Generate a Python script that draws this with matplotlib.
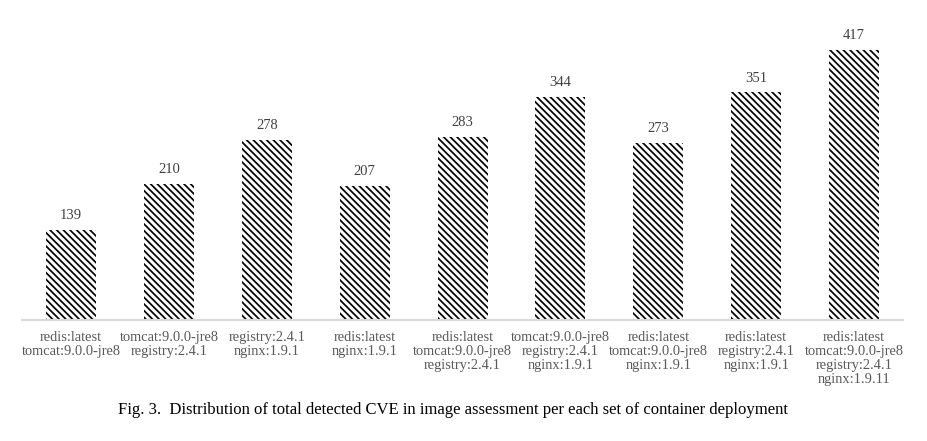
import matplotlib.pyplot as plt
import numpy as np

# ── Data ─────────────────────────────────────────────
deployments = [
    "redis:latest\ntomcat:9.0.0-jre8",
    "tomcat:9.0.0-jre8\nregistry:2.4.1",
    "registry:2.4.1\nnginx:1.9.1",
    "redis:latest\nnginx:1.9.1",
    "redis:latest\ntomcat:9.0.0-jre8\nregistry:2.4.1",
    "tomcat:9.0.0-jre8\nregistry:2.4.1\nnginx:1.9.1",
    "redis:latest\ntomcat:9.0.0-jre8\nnginx:1.9.1",
    "redis:latest\nregistry:2.4.1\nnginx:1.9.1",
    "redis:latest\ntomcat:9.0.0-jre8\nregistry:2.4.1\nnginx:1.9.11",
]
cve_totals = [139, 210, 278, 207, 283, 344, 273, 351, 417]

CAPTION = ("Fig. 3.  Distribution of total detected CVE in image assessment "
           "per each set of container deployment")

plt.rcParams["font.family"] = ["Liberation Serif", "DejaVu Serif"]
plt.rcParams["hatch.linewidth"] = 1.25
plt.rcParams["hatch.color"] = "black"

fig = plt.figure(figsize=(9.27, 4.41), dpi=100)
fig.patch.set_facecolor("white")
ax = fig.add_axes([0.024, 0.274, 0.950, 0.662])

x = np.arange(len(cve_totals))
ax.bar(x, cve_totals, width=0.51, color="white", edgecolor="black",
       linewidth=0, hatch="\\" * 5, zorder=2)

for xi, v in zip(x, cve_totals):
    ax.text(xi, v + 12, str(v), ha="center", va="bottom",
            fontsize=10.5, color="#404040")

ax.set_xlim(-0.5, len(cve_totals) - 0.5)
ax.set_ylim(0, 450)
ax.set_xticks(x)
ax.set_xticklabels(deployments, fontsize=10.4, color="#595959",
                   linespacing=1.1)
ax.tick_params(axis="x", length=0, pad=8)
ax.set_yticks([])

for side in ["top", "right", "left"]:
    ax.spines[side].set_visible(False)
ax.spines["bottom"].set_color("#d9d9d9")
ax.spines["bottom"].set_linewidth(1.5)

fig.text(0.489, 0.070, CAPTION, ha="center", va="center",
         fontsize=12, color="black")

fig.savefig("out.png", dpi=100, facecolor="white")
